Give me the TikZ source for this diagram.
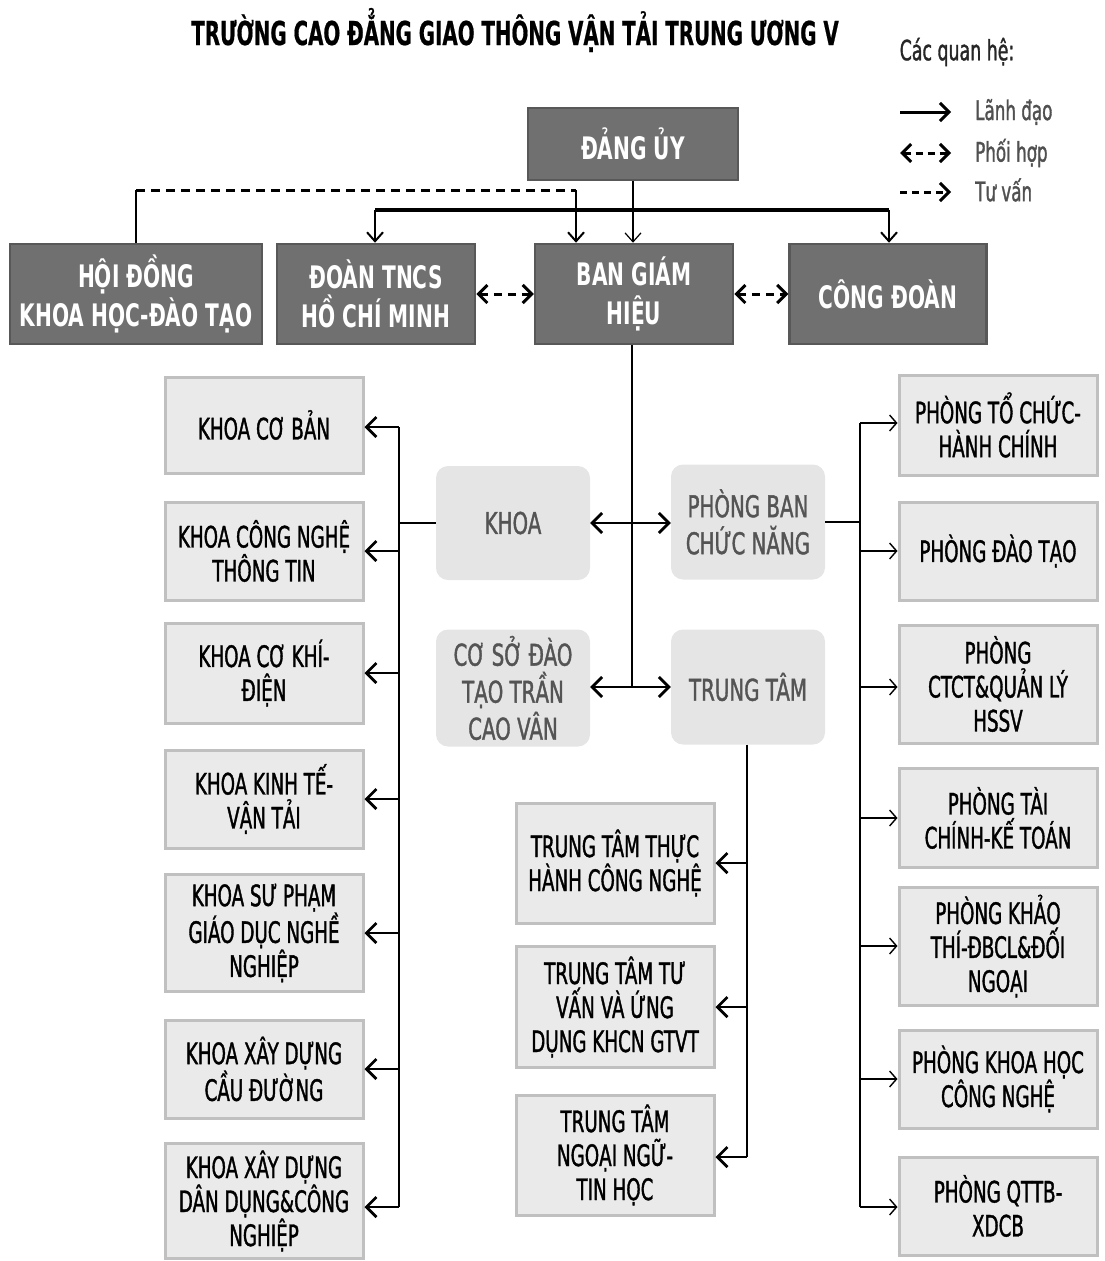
\documentclass[tikz,border=0pt]{standalone}
\usepackage{fontspec}
\setmainfont{DejaVu Sans}[FakeStretch=0.62, FakeBold=1.2]
\newfontfamily\darkfont{DejaVu Sans Bold}[FakeStretch=0.65]
\newfontfamily\titlefont{DejaVu Sans Bold}[FakeStretch=0.6, FakeBold=0.6]
\newfontfamily\softfont{DejaVu Sans}[FakeStretch=0.66, FakeBold=1.2]
\usetikzlibrary{arrows.meta}
\definecolor{dkfill}{RGB}{112,112,112}
\definecolor{dkline}{RGB}{88,88,88}
\definecolor{ltfill}{RGB}{234,234,234}
\definecolor{ltline}{RGB}{192,192,192}
\definecolor{sffill}{RGB}{229,229,229}
\definecolor{sftext}{RGB}{84,84,84}
\definecolor{legtext}{RGB}{80,80,80}
\begin{document}
\begin{tikzpicture}[x=1pt,y=-1pt,
  darkbox/.style={rectangle, fill=dkfill, draw=dkline, line width=2.5pt, text=white,
    font=\darkfont\fontsize{31}{39}\selectfont, align=center, inner sep=0pt},
  lightbox/.style={rectangle, fill=ltfill, draw=ltline, line width=3pt, text=black,
    font=\fontsize{29.5}{34}\selectfont, align=center, inner sep=0pt,
    minimum width=198pt},
  softbox/.style={rectangle, rounded corners=12pt, fill=sffill, draw=none, text=sftext,
    font=\softfont\fontsize{30}{37}\selectfont, align=center, inner sep=0pt,
    minimum width=154pt},
  thickarr/.style={line width=2.8pt, -{Straight Barb[length=10pt,width=20pt]}},
  thinarr/.style={line width=1.4pt, -{Straight Barb[length=7pt,width=16pt]}},
  bus/.style={line width=2.5pt},
  thinbus/.style={line width=1.6pt},
  legtxt/.style={anchor=west, text=legtext, font=\fontsize{27}{30}\selectfont, inner sep=0pt}
]
\path[use as bounding box] (0,0) rectangle (1104,1261);

% title and legend
\node[font=\titlefont\fontsize{33}{36}\selectfont, inner sep=0pt] (title) at (515,30) {TRƯỜNG CAO ĐẲNG GIAO THÔNG VẬN TẢI TRUNG ƯƠNG V};
\node[font=\fontsize{28}{30}\selectfont, inner sep=0pt, text=black!85] (legh) at (957,52) {Các quan hệ:};
\coordinate (l1a) at (900,112); \coordinate (l1b) at (951,112);
\coordinate (l2a) at (900,153); \coordinate (l2b) at (951,153);
\coordinate (l3a) at (900,192); \coordinate (l3b) at (951,192);
\draw[line width=3pt, -{Straight Barb[length=9pt,width=18pt]}] (l1a) -- (l1b);
\draw[line width=3pt, dash pattern=on 7pt off 5pt, {Straight Barb[length=9pt,width=18pt]}-{Straight Barb[length=9pt,width=18pt]}] (l2a) -- (l2b);
\draw[line width=3pt, dash pattern=on 7pt off 5pt, -{Straight Barb[length=9pt,width=18pt]}] (l3a) -- (l3b);
\node[legtxt] (leg1) at (975,112) {Lãnh đạo};
\node[legtxt] (leg2) at (975,153) {Phối hợp};
\node[legtxt] (leg3) at (975,190) {Tư vấn};

% dark boxes
\node[darkbox, minimum width=210pt, minimum height=72pt] (du) at (633,144) {ĐẢNG ỦY};
\node[darkbox, minimum width=252pt, minimum height=100pt] (hd) at (136,294) {HỘI ĐỒNG\\KHOA HỌC-ĐÀO TẠO};
\node[darkbox, minimum width=198pt, minimum height=100pt] (dt) at (376,294) {ĐOÀN TNCS\\HỒ CHÍ MINH};
\node[darkbox, minimum width=198pt, minimum height=100pt] (bgh) at (634,294) {BAN GIÁM\\HIỆU};
\node[darkbox, minimum width=197pt, minimum height=100pt] (cd) at (888,294) {CÔNG ĐOÀN};

% soft middle boxes
\node[softbox, minimum height=114pt] (khoa) at (513,523) {KHOA};
\node[softbox, minimum height=115pt] (pb) at (748,522) {PHÒNG BAN\\CHỨC NĂNG};
\node[softbox, minimum height=117pt] (cs) at (513,688) {CƠ SỞ ĐÀO\\TẠO TRẦN\\CAO VÂN};
\node[softbox, minimum height=115pt] (tt) at (748,687) {TRUNG TÂM};

% left boxes
\node[lightbox, minimum height=96pt] (k1) at (264,425) {KHOA CƠ BẢN};
\node[lightbox, minimum height=98pt] (k2) at (264,551) {KHOA CÔNG NGHỆ\\THÔNG TIN};
\node[lightbox, minimum height=100pt] (k3) at (264,673) {KHOA CƠ KHÍ-\\ĐIỆN};
\node[lightbox, minimum height=98pt] (k4) at (264,799) {KHOA KINH TẾ-\\VẬN TẢI};
\node[lightbox, minimum height=117pt] (k5) at (264,933) {KHOA SƯ PHẠM\\GIÁO DỤC NGHỀ\\NGHIỆP};
\node[lightbox, minimum height=98pt] (k6) at (264,1069) {KHOA XÂY DỰNG\\CẦU ĐƯỜNG};
\node[lightbox, minimum height=115pt] (k7) at (264,1201) {KHOA XÂY DỰNG\\DÂN DỤNG\&CÔNG\\NGHIỆP};

% middle sub boxes
\node[lightbox, minimum height=120pt] (t1) at (615,863) {TRUNG TÂM THỰC\\HÀNH CÔNG NGHỆ};
\node[lightbox, minimum height=121pt] (t2) at (615,1007) {TRUNG TÂM TƯ\\VẤN VÀ ỨNG\\DỤNG KHCN GTVT};
\node[lightbox, minimum height=120pt] (t3) at (615,1155) {TRUNG TÂM\\NGOẠI NGỮ-\\TIN HỌC};

% right boxes
\node[lightbox, minimum height=100pt] (p1) at (998,425) {PHÒNG TỔ CHỨC-\\HÀNH CHÍNH};
\node[lightbox, minimum height=98pt] (p2) at (998,551) {PHÒNG ĐÀO TẠO};
\node[lightbox, minimum height=118pt] (p3) at (998,684) {PHÒNG\\CTCT\&QUẢN LÝ\\HSSV};
\node[lightbox, minimum height=99pt] (p4) at (998,818) {PHÒNG TÀI\\CHÍNH-KẾ TOÁN};
\node[lightbox, minimum height=118pt] (p5) at (998,946) {PHÒNG KHẢO\\THÍ-ĐBCL\&ĐỐI\\NGOẠI};
\node[lightbox, minimum height=98pt] (p6) at (998,1079) {PHÒNG KHOA HỌC\\CÔNG NGHỆ};
\node[lightbox, minimum height=98pt] (p7) at (998,1206) {PHÒNG QTTB-\\XDCB};

% top connectors
\coordinate (hdup) at (136,190);
\coordinate (hdend) at (576,190);
\coordinate (tl) at (375,210);
\coordinate (tr) at (889,210);
\draw[line width=1.6pt] (hd.north) -- (hdup);
\draw[line width=3pt, dash pattern=on 9pt off 6pt] (hdup) -- (hdend);
\draw[line width=2pt, -{Straight Barb[length=9pt,width=16pt]}] (hdend) -- (hdend |- bgh.north);
\draw[line width=4pt] (tl) -- (tr);
\draw[line width=2pt, -{Straight Barb[length=9pt,width=16pt]}] (tl) -- (tl |- dt.north);
\draw[line width=2pt, -{Straight Barb[length=9pt,width=16pt]}] (tr) -- (tr |- cd.north);
\draw[line width=1.2pt, -{Straight Barb[length=9pt,width=16pt]}] (du.south) -- (du.south |- bgh.north);
\draw[line width=3pt, dash pattern=on 8pt off 6pt, {Straight Barb[length=9pt,width=18pt]}-{Straight Barb[length=9pt,width=18pt]}] (dt.east) -- (bgh.west);
\draw[line width=3pt, dash pattern=on 8pt off 6pt, {Straight Barb[length=9pt,width=18pt]}-{Straight Barb[length=9pt,width=18pt]}] (bgh.east) -- (cd.west);

% central trunk
\coordinate (c1) at (632,523);
\coordinate (c2) at (632,687);
\draw[line width=2pt] (bgh.south -| c1) -- (c2);
\draw[thickarr] (c1) -- (khoa.east);
\draw[thickarr] (c1) -- (c1 -| pb.west);
\draw[thickarr] (c2) -- (c2 -| cs.east);
\draw[thickarr] (c2) -- (tt.west);

% left bus
\coordinate (lb) at (399,523);
\coordinate (lbt) at (399,427);
\coordinate (lbb) at (399,1207);
\draw[thinbus] (khoa.west) -- (lb);
\draw[bus] (lbt) -- (lbb);
\draw[thickarr] (lbt) -- (lbt -| k1.east);
\draw[thickarr] (k2.east -| lb) -- (k2.east);
\draw[thickarr] (k3.east -| lb) -- (k3.east);
\draw[thickarr] (k4.east -| lb) -- (k4.east);
\draw[thickarr] (k5.east -| lb) -- (k5.east);
\draw[thickarr] (k6.east -| lb) -- (k6.east);
\draw[thickarr] (lbb) -- (lbb -| k7.east);

% middle bus
\coordinate (mb) at (747,1157);
\draw[bus] (tt.south -| mb) -- (mb);
\draw[thickarr] (t1.east -| mb) -- (t1.east);
\draw[thickarr] (t2.east -| mb) -- (t2.east);
\draw[thickarr] (mb) -- (mb -| t3.east);

% right bus
\coordinate (rb) at (860,522);
\coordinate (rbt) at (860,423);
\coordinate (rbb) at (860,1207);
\coordinate (r3) at (860,687);
\draw[thinbus] (pb.east) -- (rb);
\draw[thinbus] (rbt) -- (rbb);
\draw[thinarr] (rbt) -- (rbt -| p1.west);
\draw[thinarr] (p2.west -| rb) -- (p2.west);
\draw[thinarr] (r3) -- (r3 -| p3.west);
\draw[thinarr] (p4.west -| rb) -- (p4.west);
\draw[thinarr] (p5.west -| rb) -- (p5.west);
\draw[thinarr] (p6.west -| rb) -- (p6.west);
\draw[thinarr] (rbb) -- (rbb -| p7.west);
\end{tikzpicture}
\end{document}
